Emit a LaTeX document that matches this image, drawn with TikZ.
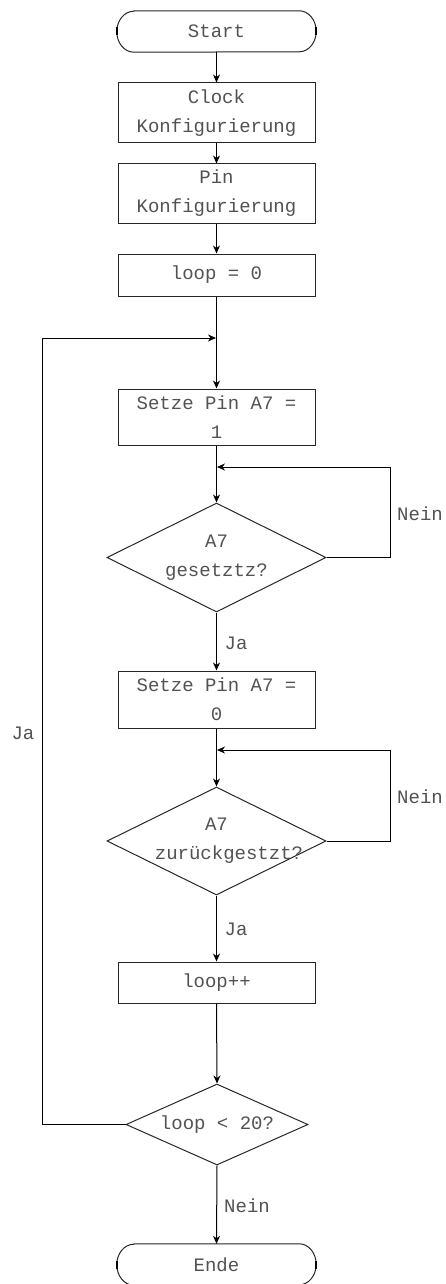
\documentclass[tikz,border=0pt]{standalone}
\usepackage{fontspec}
\setmonofont{Liberation Mono}
\usetikzlibrary{shapes.geometric,arrows.meta}
\begin{document}
\begin{tikzpicture}[x=1pt,y=-1pt,
  every node/.style={font=\ttfamily\fontsize{19}{29}\selectfont, text=black!68},
  box/.style={draw=black!85, line width=1pt, minimum width=197pt, inner sep=0pt, align=center},
  dia/.style={draw=black!85, line width=1pt, shape=diamond, inner sep=0pt, aspect=1},
  term/.style={minimum width=199pt, minimum height=41pt, inner sep=0pt},
  termline/.style={draw=black!85, line width=1pt},
  tick/.style={draw=black, line width=1.6pt},
  conn/.style={line width=1pt, draw=black},
  arr/.style={conn, -{Stealth[length=8pt,width=7pt,inset=2.5pt]}},
  lbl/.style={inner sep=0pt}
]
\useasboundingbox (0,0) rectangle (445,1284);

% terminators
\node[term] (start) at (216.5,31.5) {Start};
\draw[termline] ([xshift=17pt]start.north west) -- ([xshift=-17pt]start.north east)
  arc[start angle=90,end angle=-90,x radius=17pt,y radius=20.5pt]
  -- ([xshift=17pt]start.south west)
  arc[start angle=270,end angle=90,x radius=17pt,y radius=20.5pt] -- cycle;
\draw[tick] ([yshift=-4pt]start.west) -- ([yshift=4pt]start.west);
\draw[tick] ([yshift=-4pt]start.east) -- ([yshift=4pt]start.east);

\node[term] (ende) at (216.5,1264.5) {Ende};
\draw[termline] ([xshift=17pt]ende.north west) -- ([xshift=-17pt]ende.north east)
  arc[start angle=90,end angle=-90,x radius=17pt,y radius=20.5pt]
  -- ([xshift=17pt]ende.south west)
  arc[start angle=270,end angle=90,x radius=17pt,y radius=20.5pt] -- cycle;
\draw[tick] ([yshift=-4pt]ende.west) -- ([yshift=4pt]ende.west);
\draw[tick] ([yshift=-4pt]ende.east) -- ([yshift=4pt]ende.east);

% boxes
\node[box, minimum height=60pt] (clock) at (216.5,113) {Clock\\Konfigurierung};
\node[box, minimum height=59pt] (pin) at (216.5,193.5) {Pin\\Konfigurierung};
\node[box, minimum height=42pt] (loop0) at (216.5,275) {loop = 0};
\node[box, minimum height=56pt] (set1) at (216.5,417) {Setze Pin A7 =\\1};
\node[box, minimum height=57pt] (set0) at (216.5,699.5) {Setze Pin A7 =\\0};
\node[box, minimum height=41pt] (looppp) at (216.5,982.5) {loop++};

% diamonds
\node[dia, minimum width=219pt, minimum height=109pt] (d1) at (216.5,557.5) {};
\node[lbl, align=center] (d1t) at (216.5,557.5) {A7\\gesetztz?};
\node[dia, minimum width=219pt, minimum height=108pt] (d2) at (216.5,841) {};
\node[lbl, align=center] (d2t) at (216.5,841) {A7\\\hspace*{25pt}zurückgestzt?};
\node[dia, minimum width=182pt, minimum height=81pt] (d3) at (217,1124.5) {};
\node[lbl] (d3t) at (217,1124.5) {loop < 20?};

% coordinates
\coordinate (m1) at (216,338);
\coordinate (lt) at (42,338);
\coordinate (j1) at (217,467);
\coordinate (r1) at (390,467);
\coordinate (j2) at (217,750);
\coordinate (r2) at (390,750);

% connectors
\draw[arr] (start.south) -- (clock.north);
\draw[arr] (clock.south) -- (pin.north);
\draw[arr] (pin.south) -- (loop0.north);
\draw[arr] (loop0.south) -- (set1.north);
\draw[arr] (set1.south) -- (d1.north);
\draw[arr] (d1.east) -| (r1) -- (j1);
\draw[arr] (d1.south) -- (set0.north);
\draw[arr] (set0.south) -- (d2.north);
\draw[arr] (d2.east) -| (r2) -- (j2);
\draw[arr] (d2.south) -- (looppp.north);
\draw[arr] (looppp.south) -- (d3.north);
\draw[arr] (d3.south) -- (ende.north);
\draw[arr] (d3.west) -| (lt) -- (m1);

% labels
\node[lbl] (n1) at (420,514) {Nein};
\node[lbl] (ja1) at (236,643) {Ja};
\node[lbl] (n2) at (420,797) {Nein};
\node[lbl] (ja2) at (236,929) {Ja};
\node[lbl] (n3) at (247,1206) {Nein};
\node[lbl] (ja3) at (23,733) {Ja};
\end{tikzpicture}
\end{document}
